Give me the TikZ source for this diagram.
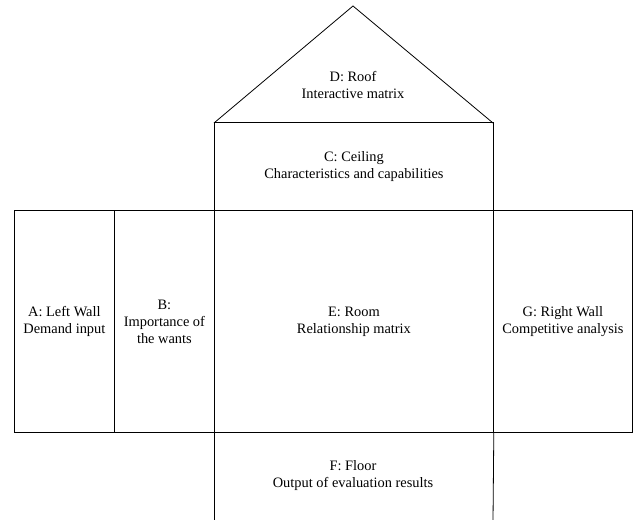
\documentclass[tikz,border=0pt]{standalone}
\usepackage{fontspec}
\setmainfont{Liberation Serif}
\begin{document}
\begin{tikzpicture}[x=1pt,y=1pt,
  part/.style={draw=black, line width=0.8pt, rectangle, inner sep=0pt, anchor=south west, align=center, font=\fontsize{14.4}{17}\selectfont},
  lbl/.style={align=center, font=\fontsize{14.4}{17}\selectfont, inner sep=0pt},
  edge/.style={draw=black, line width=0.8pt}]
\useasboundingbox (0,0) rectangle (634,519);
% roof
\coordinate (apex) at (353,513);
\coordinate (rl) at (214,396);
\coordinate (rr) at (493,396);
\draw[edge, line join=miter] (rl) -- (apex) -- (rr);
\node[lbl] (D) at (353,434) {D: Roof\\Interactive matrix};
% ceiling
\node[part, minimum width=279pt, minimum height=87.5pt] (C) at (214,308.5) {C: Ceiling\\Characteristics and capabilities};
% main row
\node[part, minimum width=100pt, minimum height=222pt] (A) at (14,86) {A: Left Wall\\Demand input};
\node[part, minimum width=100pt, minimum height=222pt] (B) at (114,86) {B:\\Importance of\\the wants};
\node[part, minimum width=279pt, minimum height=222pt] (E) at (214,86) {E: Room\\Relationship matrix};
\node[part, minimum width=139pt, minimum height=222pt] (G) at (493,86) {G: Right Wall\\Competitive analysis};
% floor
\coordinate (fl) at (214,-2);
\coordinate (fr) at (493,-2);
\draw[edge] (E.south west) -- (fl);
\draw[edge] (E.south east) -- (fr);
\node[lbl] (F) at (353,43) {F: Floor\\Output of evaluation results};
\end{tikzpicture}
\end{document}
